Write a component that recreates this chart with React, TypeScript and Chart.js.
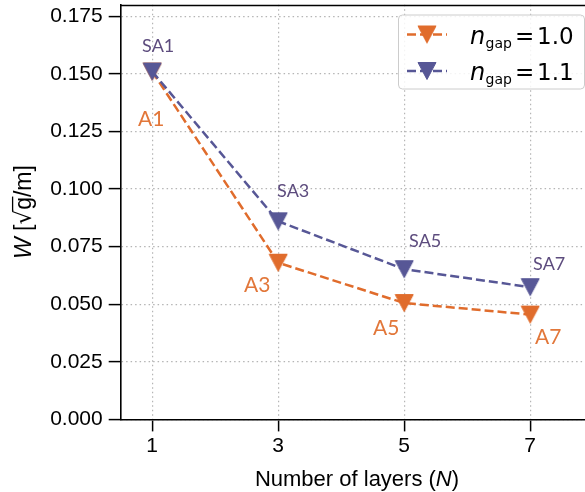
import React, { useEffect, useRef } from 'react';
import { Chart, registerables } from 'chart.js';
Chart.register(...registerables);

// ---- data ----
const layers = [1, 3, 5, 7];
const wGap10 = [0.151, 0.068, 0.0505, 0.0455];
const wGap11 = [0.151, 0.086, 0.0652, 0.0574];
const pointLabels10 = ['A1', 'A3', 'A5', 'A7'];
const pointLabels11 = ['SA1', 'SA3', 'SA5', 'SA7'];
const xTickValues = [1, 3, 5, 7];
const yTickValues = [0, 0.025, 0.05, 0.075, 0.1, 0.125, 0.15, 0.175];
const legendValues = ['1.0', '1.1'];

// ---- styles ----
const ORANGE = '#e06c2c';
const PURPLE = '#575796';
const ORANGE_TEXT = '#e2773a';
const PURPLE_TEXT = '#5d4c7e';
const TICK_FONT = '"Liberation Sans", Arial, sans-serif';
const MATH_FONT = '"DejaVu Sans", sans-serif';
const NOTE_FONT = 'Lato, "Open Sans", sans-serif';

// label offsets in px relative to each marker: [dx, baseline dy]
const offsets10 = [[-1, 54], [-21, 29], [-18, 32], [18, 29]];
const offsets11 = [[6, -20], [15, -24], [21, -22], [19, -17]];

function triangle(color: string): HTMLCanvasElement {
  const c = document.createElement('canvas');
  c.width = 20;
  c.height = 20;
  const g = c.getContext('2d')!;
  g.fillStyle = color;
  g.strokeStyle = color;
  g.lineWidth = 1;
  g.lineJoin = 'miter';
  g.beginPath();
  g.moveTo(1, 1.5);
  g.lineTo(19, 1.5);
  g.lineTo(10, 18.5);
  g.closePath();
  g.fill();
  g.stroke();
  return c;
}

const customDraw = {
  id: 'customDraw',
  afterDatasetsDraw(chart: any) {
    const ctx = chart.ctx as CanvasRenderingContext2D;
    const xs = chart.scales.x;
    const ys = chart.scales.y;
    ctx.save();
    ctx.textAlign = 'center';
    ctx.textBaseline = 'alphabetic';
    ctx.font = `18px ${NOTE_FONT}`;
    ctx.fillStyle = PURPLE_TEXT;
    pointLabels11.forEach((t, i) => {
      const px = xs.getPixelForValue(layers[i]);
      const py = ys.getPixelForValue(wGap11[i]);
      ctx.fillText(t, px + offsets11[i][0], py + offsets11[i][1]);
    });
    ctx.font = `21px ${NOTE_FONT}`;
    ctx.fillStyle = ORANGE_TEXT;
    pointLabels10.forEach((t, i) => {
      const px = xs.getPixelForValue(layers[i]);
      const py = ys.getPixelForValue(wGap10[i]);
      ctx.fillText(t, px + offsets10[i][0], py + offsets10[i][1]);
    });
    ctx.restore();
  },
  afterDraw(chart: any) {
    const ctx = chart.ctx as CanvasRenderingContext2D;
    const area = chart.chartArea;
    ctx.save();
    // top spine
    ctx.strokeStyle = '#000';
    ctx.lineWidth = 1.6;
    ctx.beginPath();
    ctx.moveTo(area.left, Math.round(area.top) + 0.5);
    ctx.lineTo(area.right, Math.round(area.top) + 0.5);
    ctx.stroke();

    // legend
    const bx = 398.5, by = 15, bw = 186, bh = 74, r = 4;
    ctx.beginPath();
    ctx.moveTo(bx + r, by);
    ctx.lineTo(bx + bw - r, by);
    ctx.quadraticCurveTo(bx + bw, by, bx + bw, by + r);
    ctx.lineTo(bx + bw, by + bh - r);
    ctx.quadraticCurveTo(bx + bw, by + bh, bx + bw - r, by + bh);
    ctx.lineTo(bx + r, by + bh);
    ctx.quadraticCurveTo(bx, by + bh, bx, by + bh - r);
    ctx.lineTo(bx, by + r);
    ctx.quadraticCurveTo(bx, by, bx + r, by);
    ctx.closePath();
    ctx.fillStyle = 'rgba(255,255,255,0.85)';
    ctx.fill();
    ctx.strokeStyle = '#cccccc';
    ctx.lineWidth = 1;
    ctx.stroke();

    const rows = [
      { y: 34.5, color: ORANGE, val: legendValues[0] },
      { y: 71, color: PURPLE, val: legendValues[1] },
    ];
    rows.forEach((row) => {
      ctx.strokeStyle = row.color;
      ctx.lineWidth = 2.5;
      ctx.setLineDash([9, 4]);
      ctx.beginPath();
      ctx.moveTo(407, row.y);
      ctx.lineTo(447, row.y);
      ctx.stroke();
      ctx.setLineDash([]);
      const img = triangle(row.color);
      ctx.drawImage(img, 427 - 10, row.y - 10);
      ctx.fillStyle = '#000';
      ctx.textAlign = 'left';
      ctx.textBaseline = 'alphabetic';
      const base = row.y + 9;
      ctx.font = `italic 24px ${MATH_FONT}`;
      ctx.fillText('n', 470, base);
      ctx.font = `14px ${MATH_FONT}`;
      ctx.fillText('gap', 485.5, base + 4);
      ctx.font = `23px ${MATH_FONT}`;
      ctx.fillText('=', 515, base);
      ctx.fillText(row.val, 537, base);
    });

    // x axis title
    ctx.fillStyle = '#000';
    ctx.textAlign = 'left';
    ctx.textBaseline = 'alphabetic';
    const p1 = 'Number of layers (';
    const p2 = 'N';
    const p3 = ')';
    ctx.font = `22px ${TICK_FONT}`;
    const w1 = ctx.measureText(p1).width;
    const w3 = ctx.measureText(p3).width;
    ctx.font = `italic 22px ${TICK_FONT}`;
    const w2 = ctx.measureText(p2).width;
    let tx = 357 - (w1 + w2 + w3) / 2;
    const tb = 486;
    ctx.font = `22px ${TICK_FONT}`;
    ctx.fillText(p1, tx, tb);
    tx += w1;
    ctx.font = `italic 22px ${TICK_FONT}`;
    ctx.fillText(p2, tx, tb);
    tx += w2;
    ctx.font = `22px ${TICK_FONT}`;
    ctx.fillText(p3, tx, tb);

    // y axis title: W [sqrt(g)/m]
    ctx.translate(31, (area.top + area.bottom) / 2);
    ctx.rotate(-Math.PI / 2);
    const fs = 23;
    const parts: { t: string; f: string }[] = [
      { t: 'W', f: `italic ${fs}px ${TICK_FONT}` },
      { t: ' [', f: `${fs}px ${TICK_FONT}` },
      { t: '\u221A', f: `${fs}px ${MATH_FONT}` },
      { t: 'g', f: `${fs}px ${TICK_FONT}` },
      { t: '/m]', f: `${fs}px ${TICK_FONT}` },
    ];
    const widths = parts.map((p) => {
      ctx.font = p.f;
      return ctx.measureText(p.t).width;
    });
    const total = widths.reduce((a, b) => a + b, 0);
    let yx = -total / 2;
    let sqrtEnd = 0, gEnd = 0;
    parts.forEach((p, i) => {
      ctx.font = p.f;
      ctx.fillText(p.t, yx, 0);
      yx += widths[i];
      if (i === 2) sqrtEnd = yx;
      if (i === 3) gEnd = yx;
    });
    ctx.strokeStyle = '#000';
    ctx.lineWidth = 1.3;
    ctx.beginPath();
    ctx.moveTo(sqrtEnd - 1.5, -fs * 0.8);
    ctx.lineTo(gEnd + 0.5, -fs * 0.8);
    ctx.stroke();
    ctx.restore();
  },
};

export default function App() {
  const ref = useRef<HTMLCanvasElement | null>(null);
  useEffect(() => {
    if (!ref.current) return;
    const mk = (vals: number[]) => layers.map((x, i) => ({ x, y: vals[i] }));
    const chart = new Chart(ref.current, {
      type: 'line',
      data: {
        datasets: [
          {
            label: 'n_gap = 1.1',
            data: mk(wGap11),
            borderColor: PURPLE,
            backgroundColor: PURPLE,
            borderWidth: 2.5,
            borderDash: [9, 4],
            pointStyle: triangle(PURPLE) as any,
            tension: 0,
            order: 0,
          },
          {
            label: 'n_gap = 1.0',
            data: mk(wGap10),
            borderColor: ORANGE,
            backgroundColor: ORANGE,
            borderWidth: 2.5,
            borderDash: [9, 4],
            pointStyle: triangle(ORANGE) as any,
            tension: 0,
            order: 1,
          },
        ],
      },
      options: {
        responsive: false,
        animation: false,
        devicePixelRatio: 1,
        layout: { autoPadding: false, padding: { left: 0, right: 0, top: 4.7, bottom: 0 } },
        plugins: { legend: { display: false }, tooltip: { enabled: false } },
        events: [],
        scales: {
          x: {
            type: 'linear',
            min: 0.5,
            max: 7.87,
            afterBuildTicks: (s: any) => {
              s.ticks = xTickValues.map((v) => ({ value: v }));
            },
            afterFit: (s: any) => {
              s.height = 72.6;
              s.paddingLeft = 0;
              s.paddingRight = 0;
            },
            ticks: {
              font: { family: TICK_FONT, size: 21 },
              color: '#000',
              padding: 2,
              maxRotation: 0,
              autoSkip: false,
              callback: (v: any) => String(v),
            },
            grid: {
              color: '#b5b5b5',
              lineWidth: 1.2,
              tickColor: '#000',
              tickWidth: 1.5,
              tickLength: 12,
              tickBorderDash: [],
            },
            border: { display: true, color: '#000', width: 1.6, dash: [1.5, 3] },
          },
          y: {
            type: 'linear',
            min: 0,
            max: 0.18,
            afterBuildTicks: (s: any) => {
              s.ticks = yTickValues.map((v) => ({ value: v }));
            },
            afterFit: (s: any) => {
              s.width = 120.7;
              s.paddingTop = 0;
              s.paddingBottom = 0;
            },
            ticks: {
              font: { family: TICK_FONT, size: 21 },
              color: '#000',
              padding: 6,
              autoSkip: false,
              callback: (v: any) => Number(v).toFixed(3),
            },
            grid: {
              color: '#b5b5b5',
              lineWidth: 1.2,
              tickColor: '#000',
              tickWidth: 1.5,
              tickLength: 12,
              tickBorderDash: [],
            },
            border: { display: true, color: '#000', width: 1.6, dash: [1.5, 3] },
          },
        },
      } as any,
      plugins: [customDraw],
    });
    return () => chart.destroy();
  }, []);
  return (
    <div style={{ position: 'absolute', left: 0, top: 0, width: 585, height: 492, background: '#fff' }}>
      <canvas ref={ref} width={585} height={492} style={{ display: 'block', width: 585, height: 492 }} />
    </div>
  );
}
